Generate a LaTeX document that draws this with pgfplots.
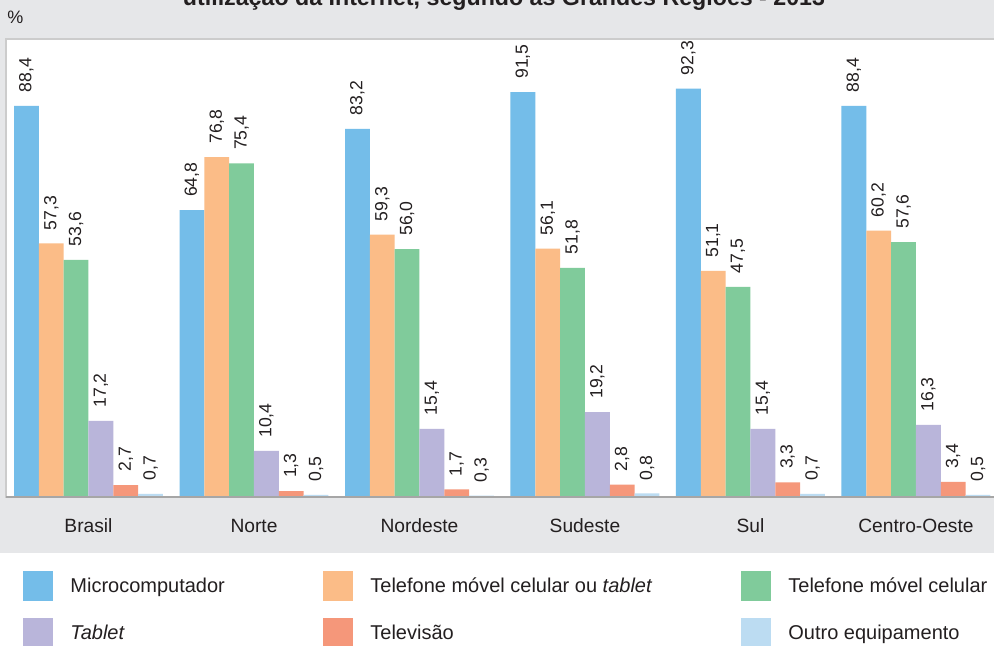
\documentclass[border=0pt]{standalone}
\usepackage{pgfplots}
\pgfplotsset{compat=1.18}
\usepackage{fontspec}
\setmainfont{Liberation Sans}
\definecolor{cMicro}{HTML}{74BDE9}
\definecolor{cTelTab}{HTML}{FBBC87}
\definecolor{cTel}{HTML}{80CB9B}
\definecolor{cTab}{HTML}{B9B5DA}
\definecolor{cTV}{HTML}{F5977A}
\definecolor{cOutro}{HTML}{BCDCF2}
\definecolor{bggray}{HTML}{E6E7E9}
\definecolor{txt}{HTML}{231F20}
\pgfplotsset{
  legaxis/.style={at={(3pt,74.5pt)}, anchor=south west, scale only axis,
    width=497pt, height=229pt, xmin=0, xmax=1, ymin=0, ymax=1, hide axis,
    legend image code/.code={\fill[##1] (0pt,-7.5pt) rectangle (15pt,7.5pt); \path (23.5pt,0pt);},
    legend style={anchor=north west, draw=none, fill=none, inner sep=0pt,
      row sep=8.5pt, column sep=0pt, font=\fontsize{10}{12}\selectfont,
      cells={anchor=west}, nodes={inner sep=0pt, text=txt}},
    legend cell align=left}
}
\begin{document}
\begin{tikzpicture}
\path[use as bounding box] (0,0) rectangle (497pt,323pt);
\clip (0,0) rectangle (497pt,323pt);
\fill[bggray] (0,46.5pt) rectangle (497pt,323pt);
\node[font=\bfseries\fontsize{11.6}{13}\selectfont, anchor=base, text=txt] at (252pt,320pt) {utilização da Internet, segundo as Grandes Regiões - 2013};
\node[anchor=west, font=\fontsize{9}{11}\selectfont, inner sep=0pt, text=txt] at (3.5pt,314.5pt) {\%};
\begin{axis}[
  at={(3pt,74.5pt)}, anchor=south west, scale only axis,
  width=497pt, height=229pt,
  xmin=-0.4985, xmax=5.508, ymin=0, ymax=103.5,
  axis background/.style={fill=white},
  axis line style={draw=black!20, line width=0.6pt},
  ytick=\empty, xtick={0,1,2,3,4,5},
  xticklabels={Brasil,Norte,Nordeste,Sudeste,Sul,Centro-Oeste},
  major tick length=0pt,
  xticklabel style={font=\fontsize{9.6}{11}\selectfont, inner sep=0pt, anchor=base, yshift=-18pt, text=txt},
  ybar, bar width=0.15,
  nodes near coords,
  every node near coord/.append style={rotate=90, anchor=west, inner xsep=6.5pt, inner ysep=0pt, font=\fontsize{8.8}{10}\selectfont, text=txt},
  /pgf/number format/assume math mode=true,
  /pgf/number format/use comma,
  /pgf/number format/fixed,
  /pgf/number format/fixed zerofill,
  /pgf/number format/precision=1,
  after end axis/.code={\draw[black!35, line width=1pt] (rel axis cs:0,0) -- (rel axis cs:1,0);},
]
\addplot[fill=cMicro, draw=none, bar shift=-0.375] coordinates {(0,88.4) (1,64.8) (2,83.2) (3,91.5) (4,92.3) (5,88.4)};
\addplot[fill=cTelTab, draw=none, bar shift=-0.225] coordinates {(0,57.3) (1,76.8) (2,59.3) (3,56.1) (4,51.1) (5,60.2)};
\addplot[fill=cTel, draw=none, bar shift=-0.075] coordinates {(0,53.6) (1,75.4) (2,56.0) (3,51.8) (4,47.5) (5,57.6)};
\addplot[fill=cTab, draw=none, bar shift=0.075] coordinates {(0,17.2) (1,10.4) (2,15.4) (3,19.2) (4,15.4) (5,16.3)};
\addplot[fill=cTV, draw=none, bar shift=0.225] coordinates {(0,2.7) (1,1.3) (2,1.7) (3,2.8) (4,3.3) (5,3.4)};
\addplot[fill=cOutro, draw=none, bar shift=0.375] coordinates {(0,0.7) (1,0.5) (2,0.3) (3,0.8) (4,0.7) (5,0.5)};
\end{axis}
\begin{axis}[legaxis, legend style={at={(0.0171,-0.1616)}}]
\addlegendimage{fill=cMicro, draw=none}
\addlegendentry{Microcomputador}
\addlegendimage{fill=cTab, draw=none}
\addlegendentry{\textit{Tablet}}
\end{axis}
\begin{axis}[legaxis, legend style={at={(0.3189,-0.1616)}}]
\addlegendimage{fill=cTelTab, draw=none}
\addlegendentry{Telefone móvel celular ou \textit{tablet}}
\addlegendimage{fill=cTV, draw=none}
\addlegendentry{Televisão}
\end{axis}
\begin{axis}[legaxis, legend style={at={(0.7394,-0.1616)}}]
\addlegendimage{fill=cTel, draw=none}
\addlegendentry{Telefone móvel celular}
\addlegendimage{fill=cOutro, draw=none}
\addlegendentry{Outro equipamento}
\end{axis}
\end{tikzpicture}
\end{document}
